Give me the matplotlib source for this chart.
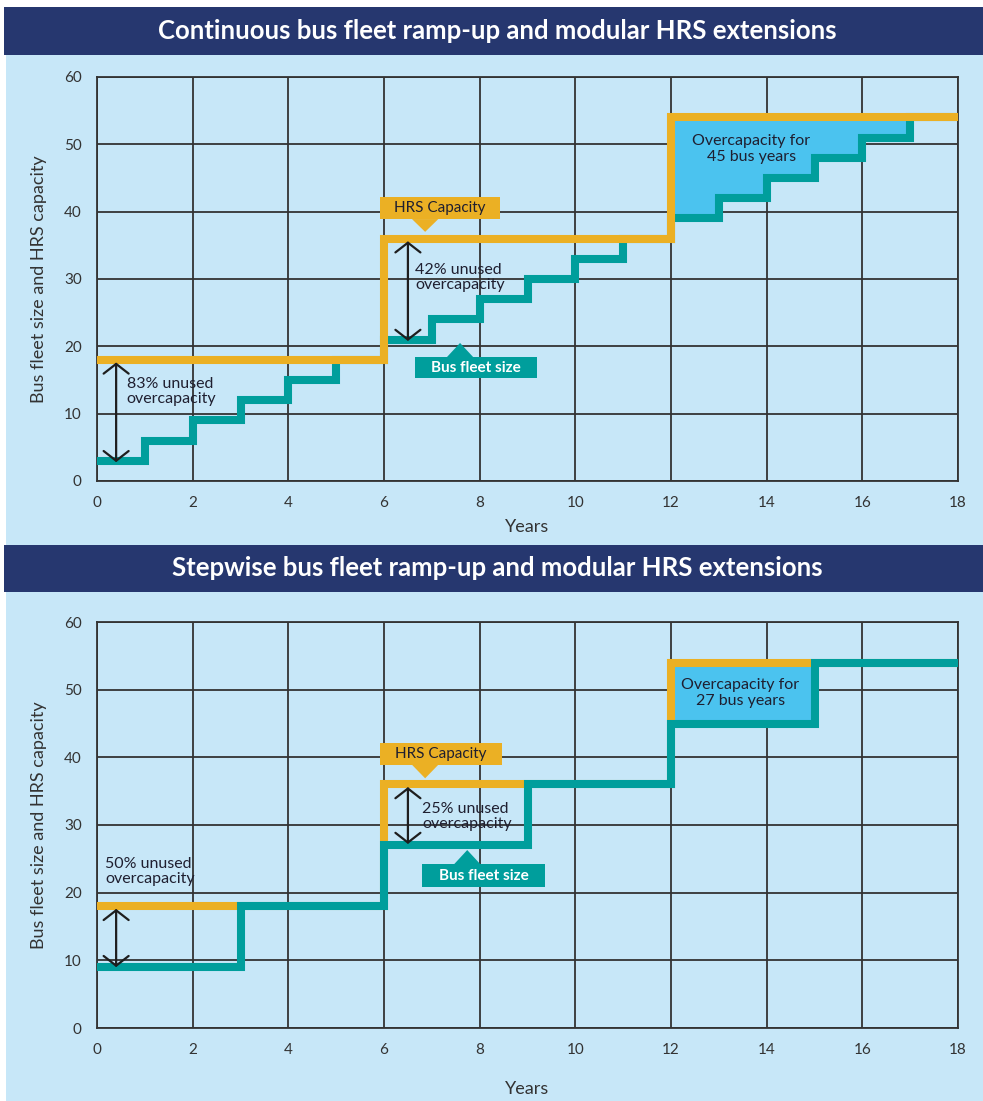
import matplotlib
matplotlib.use('Agg')
import matplotlib.pyplot as plt
import matplotlib.patches as patches

# 데이터
years = [0, 1, 2, 3, 4, 5, 6, 7, 8, 9, 10, 11, 12, 13, 14, 15, 16, 17, 18]

cont_fleet = [3, 6, 9, 12, 15, 18, 21, 24, 27, 30, 33, 36, 39, 42, 45, 48, 51, 54, 54]
cont_capacity = [18, 18, 18, 18, 18, 18, 36, 36, 36, 36, 36, 36, 54, 54, 54, 54, 54, 54, 54]

step_fleet = [9, 9, 9, 18, 18, 18, 27, 27, 27, 36, 36, 36, 45, 45, 45, 54, 54, 54, 54]
step_capacity = [18, 18, 18, 18, 18, 18, 36, 36, 36, 36, 36, 36, 54, 54, 54, 54, 54, 54, 54]

x_ticks = [0, 2, 4, 6, 8, 10, 12, 14, 16, 18]
y_ticks = [0, 10, 20, 30, 40, 50, 60]

titles = ['Continuous bus fleet ramp-up and modular HRS extensions',
          'Stepwise bus fleet ramp-up and modular HRS extensions']

NAVY = '#26376f'
PANEL = '#c7e7f8'
ORANGE = '#ebb024'
TEAL = '#009e9c'
FILL = '#4bc3ef'
GRID = '#333333'
TXT = '#1f1f30'
FONT = 'Lato'


def callout(ax, x0, x1, y0, y1, tip, base_w, color, text, tcolor, weight, up=False):
    # 말풍선 박스 + 삼각형 포인터
    box = patches.Rectangle((x0, y0), x1 - x0, y1 - y0, facecolor=color,
                            edgecolor='none', zorder=6)
    ax.add_patch(box)
    tx, ty = tip
    base_y = y1 if up else y0
    tri = patches.Polygon([(tx - base_w / 2, base_y), (tx + base_w / 2, base_y), (tx, ty)],
                          closed=True, facecolor=color, edgecolor='none', zorder=6)
    ax.add_patch(tri)
    ax.text((x0 + x1) / 2, (y0 + y1) / 2, text, ha='center', va='center',
            fontsize=11, fontweight=weight, color=tcolor, family=FONT, zorder=7)


def arrow(ax, x, y_top, y_bot):
    ax.annotate('', xy=(x, y_bot), xytext=(x, y_top),
                arrowprops=dict(arrowstyle='<->,head_length=0.35,head_width=0.45',
                                mutation_scale=20, lw=1.6, color='#1e1e1e',
                                shrinkA=0, shrinkB=0), zorder=6)


def note(ax, x, y, text, ha='left'):
    ax.text(x, y, text, fontsize=11.5, family=FONT, color=TXT, va='center', ha=ha,
            linespacing=1.1, zorder=7)


def setup_axes(ax):
    ax.set_zorder(2)
    ax.set_xlim(0, 18)
    ax.set_ylim(0, 60)
    ax.set_xticks(x_ticks)
    ax.set_yticks(y_ticks)
    ax.set_facecolor('none')
    ax.grid(True, color=GRID, linewidth=1.3)
    ax.set_axisbelow(True)
    for s in ax.spines.values():
        s.set_color(GRID)
        s.set_linewidth(1.3)
    ax.tick_params(length=0, pad=11, labelsize=11, labelcolor='#333333')
    for lab in ax.get_xticklabels() + ax.get_yticklabels():
        lab.set_family(FONT)
    ax.set_ylabel('Bus fleet size and HRS capacity', fontsize=13, family=FONT,
                  color='#333333', labelpad=12)


def main():
    fig = plt.figure(figsize=(9.83, 11.01), dpi=100)
    H = 1101.0
    W = 983.0

    # 배경 패널과 제목 띠
    for top, bot in [(55, 545), (592, 1101)]:
        fig.patches.append(patches.Rectangle((6 / W, 1 - bot / H), 1, (bot - top) / H,
                                             transform=fig.transFigure, facecolor=PANEL,
                                             edgecolor='none', zorder=0))
    for (top, bot), title in zip([(7, 55), (545, 592)], titles):
        fig.patches.append(patches.Rectangle((4 / W, 1 - bot / H), 1, (bot - top) / H,
                                             transform=fig.transFigure, facecolor=NAVY,
                                             edgecolor='none', zorder=0))
        fig.text(0.506, 1 - (top + bot) / 2 / H, title, ha='center', va='center',
                 fontsize=18.5, fontweight='bold', color='white', family=FONT)

    ax1 = fig.add_axes([97 / W, 1 - 481 / H, 861 / W, 404 / H])
    ax2 = fig.add_axes([97 / W, 1 - 1028 / H, 861 / W, 406 / H])

    # 위 차트: 연속 증가
    setup_axes(ax1)
    mask = [y >= 12 for y in years]
    ax1.fill_between(years, cont_fleet, cont_capacity, where=mask, step='post',
                     facecolor=FILL, edgecolor='none', zorder=2)
    ax1.step(years, cont_fleet, where='post', color=TEAL, lw=5.8, zorder=3,
             solid_joinstyle='miter', solid_capstyle='butt')
    ax1.step(years, cont_capacity, where='post', color=ORANGE, lw=5.8, zorder=4,
             solid_joinstyle='miter', solid_capstyle='butt')
    ax1.set_xlabel('Years', fontsize=13, family=FONT, color='#333333', labelpad=6)

    arrow(ax1, 0.4, 17.6, 2.8)
    note(ax1, 0.62, 13.3, '83% unused\novercapacity')
    arrow(ax1, 6.5, 35.6, 20.8)
    note(ax1, 6.65, 30.2, '42% unused\novercapacity')
    note(ax1, 13.68, 49.3, 'Overcapacity for\n45 bus years', ha='center')
    callout(ax1, 5.92, 8.43, 38.9, 42.2, (6.86, 37.0), 0.55, ORANGE, 'HRS Capacity', TXT,
            'normal')
    callout(ax1, 6.65, 9.2, 15.3, 18.4, (7.59, 20.5), 0.55, TEAL, 'Bus fleet size', 'white',
            'bold', up=True)

    # 아래 차트: 단계적 증가
    setup_axes(ax2)
    ax2.fill_between(years, step_fleet, step_capacity, where=mask, step='post',
                     facecolor=FILL, edgecolor='none', zorder=2)
    ax2.step(years, step_capacity, where='post', color=ORANGE, lw=5.8, zorder=3,
             solid_joinstyle='miter', solid_capstyle='butt')
    ax2.step(years, step_fleet, where='post', color=TEAL, lw=5.8, zorder=4,
             solid_joinstyle='miter', solid_capstyle='butt')
    ax2.set_xlabel('Years', fontsize=13, family=FONT, color='#333333', labelpad=17)

    arrow(ax2, 0.4, 17.6, 9.0)
    note(ax2, 0.17, 23.1, '50% unused\novercapacity')
    arrow(ax2, 6.5, 35.6, 27.2)
    note(ax2, 6.8, 31.2, '25% unused\novercapacity')
    note(ax2, 13.45, 49.5, 'Overcapacity for\n27 bus years', ha='center')
    callout(ax2, 5.92, 8.47, 38.9, 42.1, (6.86, 36.9), 0.55, ORANGE, 'HRS Capacity', TXT,
            'normal')
    callout(ax2, 6.79, 9.37, 20.8, 24.2, (7.74, 26.3), 0.55, TEAL, 'Bus fleet size', 'white',
            'bold', up=True)

    fig.savefig('out.png', dpi=100)


if __name__ == '__main__':
    main()
